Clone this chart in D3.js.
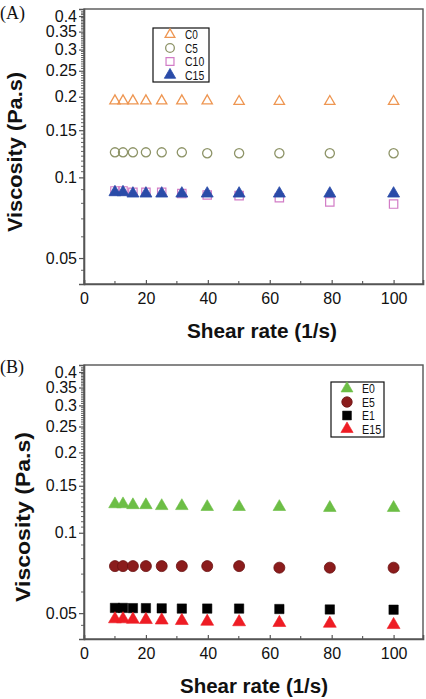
<!DOCTYPE html>
<html><head><meta charset="utf-8">
<script src="https://cdn.jsdelivr.net/npm/d3@7"></script>
<style>
html,body{margin:0;padding:0;background:#fff;}
svg{display:block;}
</style></head>
<body>
<script>
// ---- data ----
const shearRates = [10, 12.6, 15.8, 20, 25.1, 31.6, 39.8, 50.1, 63.1, 79.4, 100];
const xTicks = [0, 20, 40, 60, 80, 100];
const xMinorTicks = [10, 30, 50, 70, 90];
const yTicks = [0.05, 0.1, 0.15, 0.2, 0.25, 0.3, 0.35, 0.4];
const yTickLabels = ["0.05", "0.1", "0.15", "0.2", "0.25", "0.3", "0.35", "0.4"];

const panelALabel = "(A)";
const seriesANames = ["C0", "C5", "C10", "C15"];
const C0 = [0.193, 0.193, 0.193, 0.193, 0.193, 0.193, 0.193, 0.192, 0.192, 0.192, 0.192];
const C5 = [0.124, 0.124, 0.124, 0.124, 0.124, 0.124, 0.123, 0.123, 0.123, 0.123, 0.123];
const C10 = [0.089, 0.089, 0.088, 0.088, 0.088, 0.087, 0.086, 0.0855, 0.084, 0.081, 0.0795];
const C15 = [0.088, 0.088, 0.087, 0.087, 0.087, 0.087, 0.087, 0.087, 0.087, 0.087, 0.087];

const panelBLabel = "(B)";
const seriesBNames = ["E0", "E5", "E1", "E15"];
const E0 = [0.128, 0.128, 0.127, 0.127, 0.126, 0.126, 0.125, 0.125, 0.125, 0.124, 0.124];
const E5 = [0.075, 0.075, 0.075, 0.075, 0.075, 0.075, 0.075, 0.075, 0.074, 0.074, 0.074];
const E1 = [0.0523, 0.0523, 0.0522, 0.0522, 0.0521, 0.052, 0.052, 0.052, 0.0518, 0.0516, 0.0515];
const E15 = [0.0475, 0.0475, 0.0473, 0.0472, 0.047, 0.0468, 0.0465, 0.0463, 0.046, 0.0457, 0.0452];

const xTitle = "Shear rate (1/s)";
const yTitle = "Viscosity (Pa.s)";

// ---- styles ----
const styleA = [
  {sym: d3.symbolTriangle, size: 46, fill: "none", stroke: "#EE9652", sw: 1.3},
  {sym: d3.symbolCircle, size: 66, fill: "none", stroke: "#8E9468", sw: 1.3},
  {sym: d3.symbolSquare, size: 70, fill: "none", stroke: "#D27CC6", sw: 1.2},
  {sym: d3.symbolTriangle, size: 62, fill: "#2A4BA8", stroke: "#2A4BA8", sw: 0.8}
];
const styleB = [
  {sym: d3.symbolTriangle, size: 68, fill: "#6CBE45", stroke: "#6CBE45", sw: 0.6},
  {sym: d3.symbolCircle, size: 95, fill: "#8B1C1C", stroke: "#6A1010", sw: 0.8},
  {sym: d3.symbolSquare, size: 88, fill: "#000000", stroke: "#000000", sw: 0.5},
  {sym: d3.symbolTriangle, size: 72, fill: "#EE1C24", stroke: "#EE1C24", sw: 0.6}
];

const W = 426, H = 699;
const svg = d3.select("body").append("svg").attr("width", W).attr("height", H);

const axisColor = "#555";
const tickFont = "'Liberation Sans', Arial, sans-serif";

function panel(cfg) {
  const {top, bottom, left, right, label, labelY, names, series, styles, legend, yTitleX, yTitleY, yTitleLen, xTitleY, xTitleX, xTitleLen} = cfg;
  const x = d3.scaleLinear().domain([0, 109.5]).range([left, right]);
  const y = d3.scaleLog().domain([0.04, 0.425]).range([bottom, top]);
  const g = svg.append("g");

  // frame
  g.append("rect").attr("x", left).attr("y", top).attr("width", right - left).attr("height", bottom - top)
    .attr("fill", "none").attr("stroke", axisColor).attr("stroke-width", 1.4);

  // y axis
  const yAxis = d3.axisLeft(y).tickValues(yTicks).tickFormat((d, i) => yTickLabels[i]).tickSize(5).tickPadding(2);
  const ya = g.append("g").attr("transform", `translate(${left},0)`).call(yAxis);
  ya.select(".domain").attr("stroke", axisColor).attr("stroke-width", 1.6);
  ya.selectAll(".tick line").attr("stroke", axisColor).attr("stroke-width", 1.2);
  ya.selectAll(".tick text").attr("font-family", tickFont).attr("font-size", 16).attr("fill", "#111");
  // minor y ticks
  const minor = [];
  [0.045, 0.06, 0.07, 0.08, 0.09].forEach(v => minor.push(v));
  for (let v = 0.105; v < 0.42; v += 0.005) {
    const r = Math.round(v * 1000) / 1000;
    if (!yTicks.some(t => Math.abs(t - r) < 1e-6)) minor.push(r);
  }
  g.append("g").selectAll("line").data(minor).join("line")
    .attr("x1", left - 3).attr("x2", left).attr("y1", d => y(d)).attr("y2", d => y(d))
    .attr("stroke", axisColor).attr("stroke-width", 0.9);

  // x axis
  const xAxis = d3.axisBottom(x).tickValues(xTicks).tickFormat(d3.format("d")).tickSize(-4).tickPadding(9);
  const xa = g.append("g").attr("transform", `translate(0,${bottom})`).call(xAxis);
  xa.select(".domain").attr("stroke", axisColor).attr("stroke-width", 1.6);
  xa.selectAll(".tick line").attr("stroke", axisColor).attr("stroke-width", 1.2);
  xa.selectAll(".tick text").attr("font-family", tickFont).attr("font-size", 16).attr("fill", "#111");
  g.append("g").selectAll("line").data(xMinorTicks).join("line")
    .attr("x1", d => x(d)).attr("x2", d => x(d)).attr("y1", bottom).attr("y2", bottom - 3)
    .attr("stroke", axisColor).attr("stroke-width", 1.1);

  // titles
  g.append("text").attr("x", xTitleX).attr("y", xTitleY).attr("text-anchor", "middle")
    .attr("font-family", "'Liberation Sans', Arial, sans-serif").attr("font-weight", "bold").attr("font-size", 20)
    .attr("textLength", xTitleLen).attr("lengthAdjust", "spacingAndGlyphs")
    .attr("fill", "#111").text(xTitle);
  g.append("text").attr("transform", `translate(${yTitleX},${yTitleY}) rotate(-90)`).attr("text-anchor", "middle")
    .attr("font-family", "'Liberation Sans', Arial, sans-serif").attr("font-weight", "bold").attr("font-size", 21)
    .attr("textLength", yTitleLen).attr("lengthAdjust", "spacingAndGlyphs")
    .attr("fill", "#111").text(yTitle);
  g.append("text").attr("x", 0).attr("y", labelY)
    .attr("font-family", "'Liberation Serif', 'Times New Roman', serif").attr("font-size", 18)
    .attr("fill", "#111").text(label);

  // data
  series.forEach((vals, si) => {
    const st = styles[si];
    g.append("g").selectAll("path").data(vals).join("path")
      .attr("d", d3.symbol().type(st.sym).size(st.size))
      .attr("transform", (d, i) => `translate(${x(shearRates[i])},${y(d)})`)
      .attr("fill", st.fill).attr("stroke", st.stroke).attr("stroke-width", st.sw);
  });

  // legend
  const lg = g.append("g");
  lg.append("rect").attr("x", legend.x).attr("y", legend.y).attr("width", legend.w).attr("height", legend.h)
    .attr("fill", "#fff").attr("stroke", "#111").attr("stroke-width", 1.2);
  names.forEach((n, i) => {
    const st = styles[i];
    const cy = legend.y + 6.5 + i * 13.5;
    lg.append("path").attr("d", d3.symbol().type(st.sym).size(st.size * 0.9))
      .attr("transform", `translate(${legend.symX},${cy})`)
      .attr("fill", st.fill).attr("stroke", st.stroke).attr("stroke-width", st.sw);
    lg.append("text").attr("x", legend.textX).attr("y", cy + 4.5)
      .attr("font-family", "'Liberation Sans', Arial, sans-serif")
      .attr("font-size", 12).attr("fill", "#111")
      .attr("textLength", n.length * 6.4).attr("lengthAdjust", "spacingAndGlyphs")
      .text(n);
  });
}

panel({top: 9, bottom: 284, left: 84, right: 423, label: panelALabel, labelY: 19,
  names: seriesANames, series: [C0, C5, C10, C15], styles: styleA,
  legend: {x: 153, y: 28, w: 56, h: 54, symX: 170, textX: 185},
  yTitleX: 22, yTitleY: 152, yTitleLen: 160, xTitleX: 262, xTitleY: 338, xTitleLen: 150});

panel({top: 365, bottom: 639, left: 84, right: 423, label: panelBLabel, labelY: 373,
  names: seriesBNames, series: [E0, E5, E1, E15], styles: styleB,
  legend: {x: 331, y: 382, w: 53, h: 55, symX: 347, textX: 362},
  yTitleX: 30, yTitleY: 517, yTitleLen: 170, xTitleX: 254, xTitleY: 693, xTitleLen: 148});
</script>
</body></html>
